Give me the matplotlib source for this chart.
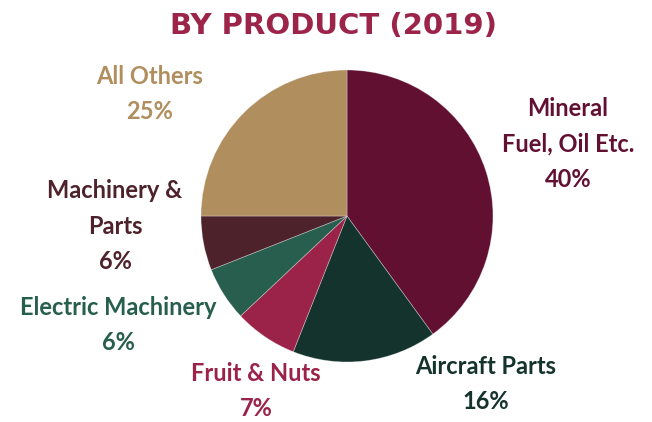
import matplotlib
matplotlib.use("Agg")
import matplotlib.pyplot as plt

categories = ["Mineral\nFuel, Oil Etc.", "Aircraft Parts", "Fruit & Nuts",
              "Electric Machinery", "Machinery &\nParts", "All Others"]
values = [40, 16, 7, 6, 6, 25]
colors = ["#621032", "#14332C", "#9B2349", "#285E4D", "#4D222B", "#B08E5E"]
title = "BY PRODUCT (2019)"

W, H = 652, 422
fig = plt.figure(figsize=(W / 100, H / 100), dpi=100)
ax = fig.add_axes([201 / W, (H - 362) / H, 292 / W, 292 / H])
ax.pie(values, colors=colors, startangle=90, counterclock=False,
       wedgeprops=dict(edgecolor=(1, 1, 1, 0.35), linewidth=0.6))
ax.set_aspect("equal")
ax.set_xlim(-1, 1)
ax.set_ylim(-1, 1)
ax.axis("off")

fig.text(334 / W, 1 - 26 / H, title, ha="center", va="center",
         fontsize=21, fontweight="bold", color="#9C2449", family="DejaVu Sans")

# label anchor points (pixel centers of text blocks)
label_pos = [(568, 144), (486, 384), (256, 391), (118, 325), (115, 226), (150, 94)]
font = "Lato"
for cat, val, col, (px, py) in zip(categories, values, colors, label_pos):
    fig.text(px / W, 1 - py / H, f"{cat}\n{val}%", ha="center", va="center",
             fontsize=17, fontweight="bold", color=col, family=font,
             linespacing=1.68)

fig.savefig("out.png", dpi=100)
